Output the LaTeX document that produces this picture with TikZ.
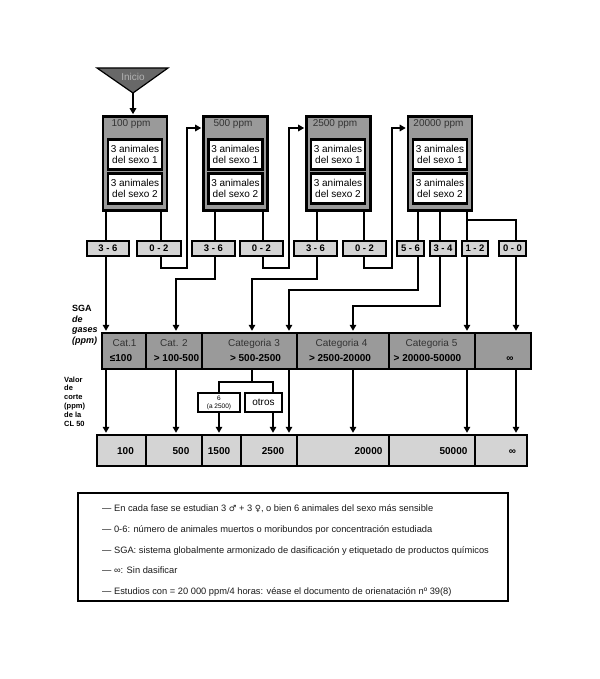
\documentclass[tikz,border=0pt]{standalone}
\usepackage{fontspec}
\setmainfont{Liberation Sans}
\newfontfamily\symfont{DejaVu Sans}
\usetikzlibrary{arrows.meta,calc}
\definecolor{dg}{HTML}{9A9A9A}
\definecolor{lg}{HTML}{D4D4D4}
\definecolor{tg}{HTML}{686868}
\begin{document}
\begin{tikzpicture}[x=1pt,y=-1pt,
  dosebox/.style={draw, line width=2.6pt, fill=dg, minimum width=64pt, minimum height=94pt, inner sep=0pt},
  animbox/.style={draw, line width=2.4pt, fill=white, minimum width=54pt, minimum height=30pt, inner sep=0pt, align=center, font=\fontsize{10}{11}\selectfont},
  ttl/.style={font=\fontsize{10}{12}\selectfont, text=black!80, inner sep=0pt},
  resbox/.style={draw, line width=2.2pt, fill=lg, minimum height=15pt, inner sep=0pt, font=\fontsize{9.5}{11}\selectfont\bfseries},
  catcell/.style={draw, line width=2.4pt, fill=dg, minimum height=36pt, inner sep=0pt},
  valcell/.style={draw, line width=2.4pt, fill=lg, minimum height=31pt, inner sep=0pt},
  ctxt/.style={font=\fontsize{10}{12}\selectfont, text=black!80, inner sep=0pt, anchor=base},
  cbold/.style={font=\fontsize{10}{12}\selectfont\bfseries, inner sep=0pt, anchor=base},
  vtxt/.style={font=\fontsize{10}{12}\selectfont\bfseries, inner sep=0pt, anchor=base},
  smallbox/.style={draw, line width=2.4pt, fill=white, minimum height=19pt, inner sep=0pt, align=center},
  conn/.style={line width=2.6pt},
  arr/.style={conn, -{Triangle[length=6pt,width=6.5pt]}, shorten >=1pt},
  legtxt/.style={anchor=base west, inner sep=0pt, font=\fontsize{9.3}{11}\selectfont, text=black!90}]
\useasboundingbox (0,0) rectangle (599,679);

% start triangle
\coordinate (tl) at (97,68);
\coordinate (tr) at (168,68);
\coordinate (ap) at (133,93);
\draw[line width=1.2pt, fill=tg] (tl) -- (tr) -- (ap) -- cycle;
\node[font=\fontsize{10}{12}\selectfont, text=black!30, inner sep=0pt] (ini) at (133,77) {Inicio};

% dose boxes
\node[dosebox] (d1) at (135,163.5) {};
\node[dosebox] (d2) at (235.5,163.5) {};
\node[dosebox] (d3) at (338.5,163.5) {};
\node[dosebox] (d4) at (440,163.5) {};
\node[ttl] (h1) at (131,124) {100 ppm};
\node[ttl] (h2) at (233,124) {500 ppm};
\node[ttl] (h3) at (335,124) {2500 ppm};
\node[ttl] (h4) at (438.5,124) {20000 ppm};
\foreach \i/\x in {1/135,2/235.5,3/338,4/440}{
  \node[animbox] (m\i) at (\x,154.5) {3 animales\\del sexo 1};
  \node[animbox] (f\i) at (\x,188.5) {3 animales\\del sexo 2};
}
\draw[arr] (ap) -- (ap |- d1.north);

% result boxes
\node[resbox, minimum width=42pt] (r1) at (108,248.5) {3 - 6};
\node[resbox, minimum width=44pt] (r2) at (159,248.5) {0 - 2};
\node[resbox, minimum width=43pt] (r3) at (213.5,248.5) {3 - 6};
\node[resbox, minimum width=43pt] (r4) at (261.5,248.5) {0 - 2};
\node[resbox, minimum width=43pt] (r5) at (315.5,248.5) {3 - 6};
\node[resbox, minimum width=43pt] (r6) at (364.5,248.5) {0 - 2};
\node[resbox, minimum width=27pt] (r7) at (410.5,248.5) {5 - 6};
\node[resbox, minimum width=26pt] (r8) at (443,248.5) {3 - 4};
\node[resbox, minimum width=26pt] (r9) at (475,248.5) {1 - 2};
\node[resbox, minimum width=27pt] (r10) at (512.5,248.5) {0 - 0};

% category row
\node[catcell, minimum width=44pt] (c1) at (124,351) {};
\node[catcell, minimum width=56pt] (c2) at (174,351) {};
\node[catcell, minimum width=95pt] (c3) at (249.5,351) {};
\node[catcell, minimum width=92pt] (c4) at (343,351) {};
\node[catcell, minimum width=86pt] (c5) at (432,351) {};
\node[catcell, minimum width=56pt] (c6) at (503,351) {};
\node[ctxt] (c1a) at (124.5,346.5) {Cat.1};
\node[cbold] (c1b) at (121,361.5) {≤100};
\node[ctxt] (c2a) at (174,346.5) {Cat. 2};
\node[cbold] (c2b) at (176.5,361.5) {> 100-500};
\node[ctxt] (c3a) at (254,346.5) {Categoria 3};
\node[cbold] (c3b) at (255.5,361.5) {> 500-2500};
\node[ctxt] (c4a) at (341.5,346.5) {Categoria 4};
\node[cbold] (c4b) at (340,361.5) {> 2500-20000};
\node[ctxt] (c5a) at (431.5,346.5) {Categoria 5};
\node[cbold] (c5b) at (427.5,361.5) {> 20000-50000};
\node[cbold] (c6b) at (510,361.5) {∞};

% value row
\node[valcell, minimum width=49pt] (v1) at (121.5,450.5) {};
\node[valcell, minimum width=56pt] (v2) at (174,450.5) {};
\node[valcell, minimum width=39pt] (v3) at (221.5,450.5) {};
\node[valcell, minimum width=56pt] (v4) at (269,450.5) {};
\node[valcell, minimum width=92pt] (v5) at (343,450.5) {};
\node[valcell, minimum width=86pt] (v6) at (432,450.5) {};
\node[valcell, minimum width=52pt] (v7) at (501,450.5) {};
\node[vtxt] (t1) at (125.5,454.5) {100};
\node[vtxt] (t2) at (181,454.5) {500};
\node[vtxt] (t3) at (219,454.5) {1500};
\node[vtxt] (t4) at (273,454.5) {2500};
\node[vtxt] (t5) at (368.5,454.5) {20000};
\node[vtxt] (t6) at (453.5,454.5) {50000};
\node[vtxt] (t7) at (512.5,454.5) {∞};

% small boxes
\node[smallbox, minimum width=42pt, font=\fontsize{6.5}{8}\selectfont] (b6) at (219,402.5) {6\\(a 2500)};
\node[smallbox, minimum width=37pt, font=\fontsize{10}{12}\selectfont] (bo) at (263.5,402.5) {otros};

% side labels
\node[anchor=base west, inner sep=0pt, align=left, font=\fontsize{9}{10.7}\selectfont\bfseries] (sga) at (72,343.5) {SGA\\\textit{de}\\\textit{gases}\\\textit{(ppm)}};
\node[anchor=base west, inner sep=0pt, align=left, font=\fontsize{7.5}{8.8}\selectfont\bfseries] (vdc) at (64,426) {Valor\\de\\corte\\(ppm)\\de la\\CL 50};

% x positions of the vertical lines
\coordinate (x1) at (106,0);
\coordinate (x2) at (161,0);
\coordinate (x3) at (215,0);
\coordinate (x4) at (263,0);
\coordinate (x5) at (317,0);
\coordinate (x6) at (364,0);
\coordinate (x7) at (418,0);
\coordinate (x8) at (440,0);
\coordinate (x9) at (467,0);
\coordinate (x10) at (516,0);
\coordinate (xo) at (273,0);

% dose boxes -> results
\draw[conn] (x1 |- d1.south) -- (x1 |- r1.north);
\draw[conn] (x2 |- d1.south) -- (x2 |- r2.north);
\draw[conn] (x3 |- d2.south) -- (x3 |- r3.north);
\draw[conn] (x4 |- d2.south) -- (x4 |- r4.north);
\draw[conn] (x5 |- d3.south) -- (x5 |- r5.north);
\draw[conn] (x6 |- d3.south) -- (x6 |- r6.north);
\draw[conn] (x7 |- d4.south) -- (x7 |- r7.north);
\draw[conn] (x8 |- d4.south) -- (x8 |- r8.north);
\draw[conn] (x9 |- d4.south) -- (x9 |- r9.north);
\coordinate (j10) at (467,220);
\draw[conn] (j10) -| (x10 |- r10.north);

% 0-2 -> next concentration
\coordinate (k1a) at (161,268);
\coordinate (k1b) at (187,128);
\draw[arr] (x2 |- r2.south) -- (k1a) -| (k1b) -- (k1b -| d2.west);
\coordinate (k2a) at (263,268);
\coordinate (k2b) at (289,128);
\draw[arr] (x4 |- r4.south) -- (k2a) -| (k2b) -- (k2b -| d3.west);
\coordinate (k3a) at (364,268);
\coordinate (k3b) at (392,128);
\draw[arr] (x6 |- r6.south) -- (k3a) -| (k3b) -- (k3b -| d4.west);

% results -> categories
\draw[arr] (x1 |- r1.south) -- (x1 |- c1.north);
\coordinate (j3) at (176,279);
\draw[arr] (x3 |- r3.south) |- (j3) -- (j3 |- c2.north);
\coordinate (j5) at (252,279);
\draw[arr] (x5 |- r5.south) |- (j5) -- (j5 |- c3.north);
\coordinate (j7) at (289,290);
\draw[arr] (x7 |- r7.south) |- (j7) -- (j7 |- c3.north);
\coordinate (j8) at (353,306);
\draw[arr] (x8 |- r8.south) |- (j8) -- (j8 |- c4.north);
\draw[arr] (x9 |- r9.south) -- (x9 |- c5.north);
\draw[arr] (x10 |- r10.south) -- (x10 |- c6.north);

% categories -> cut-off values
\draw[arr] (x1 |- c1.south) -- (x1 |- v1.north);
\draw[arr] (j3 |- c2.south) -- (j3 |- v2.north);
\coordinate (s0) at (252,382);
\draw[conn] (j5 |- c3.south) -- (s0);
\draw[conn] (b6.north) |- (s0) -| (xo |- bo.north);
\draw[arr] (b6.south) -- (b6.south |- v3.north);
\draw[arr] (xo |- bo.south) -- (xo |- v4.north);
\draw[arr] (j7 |- c3.south) -- (j7 |- v4.north);
\draw[arr] (j8 |- c4.south) -- (j8 |- v5.north);
\draw[arr] (x9 |- c5.south) -- (x9 |- v6.north);
\draw[arr] (x10 |- c6.south) -- (x10 |- v7.north);

% legend
\node[draw, line width=2.6pt, minimum width=430pt, minimum height=108pt, inner sep=0pt] (leg) at (293,547) {};
\node[legtxt] (l1) at (102,511.2) {— En cada fase se estudian 3 {\symfont\fontsize{8.5}{11}\selectfont ♂} + 3 {\symfont\fontsize{8.5}{11}\selectfont ♀}, o bien 6 animales del sexo más sensible};
\node[legtxt] (l2) at (102,532.2) {— 0-6: número de animales muertos o moribundos por concentración estudiada};
\node[legtxt] (l3) at (102,553.2) {— SGA: sistema globalmente armonizado de dasificación y etiquetado de productos químicos};
\node[legtxt] (l4) at (102,573.2) {— ∞: Sin dasificar};
\node[legtxt] (l5) at (102,594.2) {— Estudios con = 20 000 ppm/4 horas: véase el documento de orienatación nº 39(8)};
\end{tikzpicture}
\end{document}
